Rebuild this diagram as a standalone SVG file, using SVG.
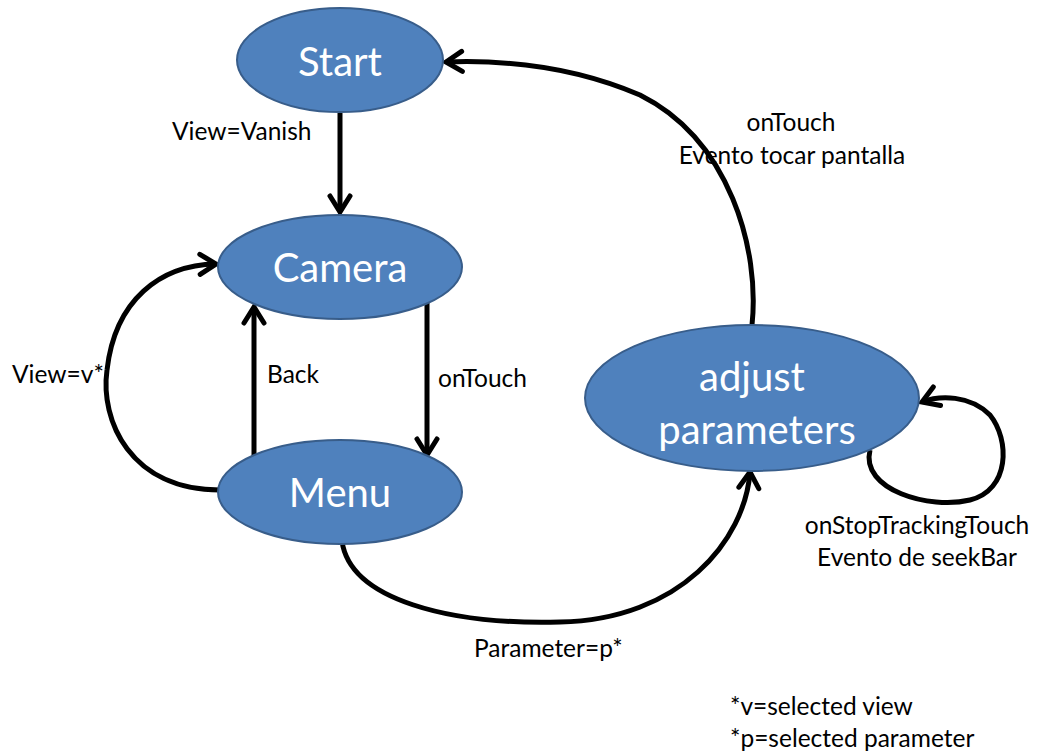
<svg xmlns="http://www.w3.org/2000/svg" width="1038" height="753" viewBox="0 0 1038 753">
<style>
.node{fill:#4F81BD;stroke:#385D8A;stroke-width:2}
.nt{font-family:Lato,"Open Sans",sans-serif;font-size:40px;fill:#fff;text-anchor:middle}
.lb{font-family:Lato,"Open Sans",sans-serif;font-size:24.5px;fill:#000}
.c{fill:none;stroke:#000;stroke-width:5;marker-end:url(#ah)}
</style>
<defs>
<marker id="ah" markerUnits="userSpaceOnUse" markerWidth="30" markerHeight="30" refX="20" refY="12" orient="auto" viewBox="0 0 30 24">
<path d="M4,2 L20,12 L4,22" fill="none" stroke="#000" stroke-width="5" stroke-linecap="round" stroke-linejoin="miter"/>
</marker>
</defs>
<rect width="1038" height="753" fill="#fff"/>
<g id="connectors">
<path class="c" d="M340,113 L340,212"/>
<path class="c" d="M427,303 L427,455"/>
<path class="c" d="M254,457 L254,307"/>
<path class="c" d="M220,490 C130,490 100,420 107,370 C115,300 160,265 216,264"/>
<path class="c" d="M342,541 C350,600 450,625 560,622 C680,620 745,540 750,472"/>
<path class="c" d="M752,325 C760,250 730,140 640,95 C570,65 500,60 446,62"/>
<path class="c" d="M870,450 C860,490 930,510 970,500 C1010,490 1010,440 990,415 C970,395 940,395 922,402"/>
</g>
<g id="start"><ellipse class="node" cx="340" cy="60" rx="103" ry="52"/><text class="nt" x="340" y="76">Start</text></g>
<g id="camera"><ellipse class="node" cx="340" cy="267" rx="122" ry="52"/><text class="nt" x="340" y="282">Camera</text></g>
<g id="menu"><ellipse class="node" cx="340" cy="492" rx="122" ry="52"/><text class="nt" x="340" y="507">Menu</text></g>
<g id="adjust"><ellipse class="node" cx="752" cy="398" rx="167" ry="73"/><text class="nt" x="752" y="391">adjust</text><text class="nt" x="757" y="444">parameters</text></g>
<g id="labels">
<text class="lb" x="172" y="140">View=Vanish</text>
<text class="lb" x="791" y="131" text-anchor="middle">onTouch</text>
<text class="lb" x="792" y="164" text-anchor="middle">Evento tocar pantalla</text>
<text class="lb" x="267" y="383">Back</text>
<text class="lb" x="438" y="387">onTouch</text>
<text class="lb" x="12" y="383">View=v*</text>
<text class="lb" x="917" y="534" text-anchor="middle">onStopTrackingTouch</text>
<text class="lb" x="917" y="566" text-anchor="middle">Evento de seekBar</text>
<text class="lb" x="474" y="657">Parameter=p*</text>
<text class="lb" x="730" y="715">*v=selected view</text>
<text class="lb" x="730" y="747">*p=selected parameter</text>
</g>
</svg>
